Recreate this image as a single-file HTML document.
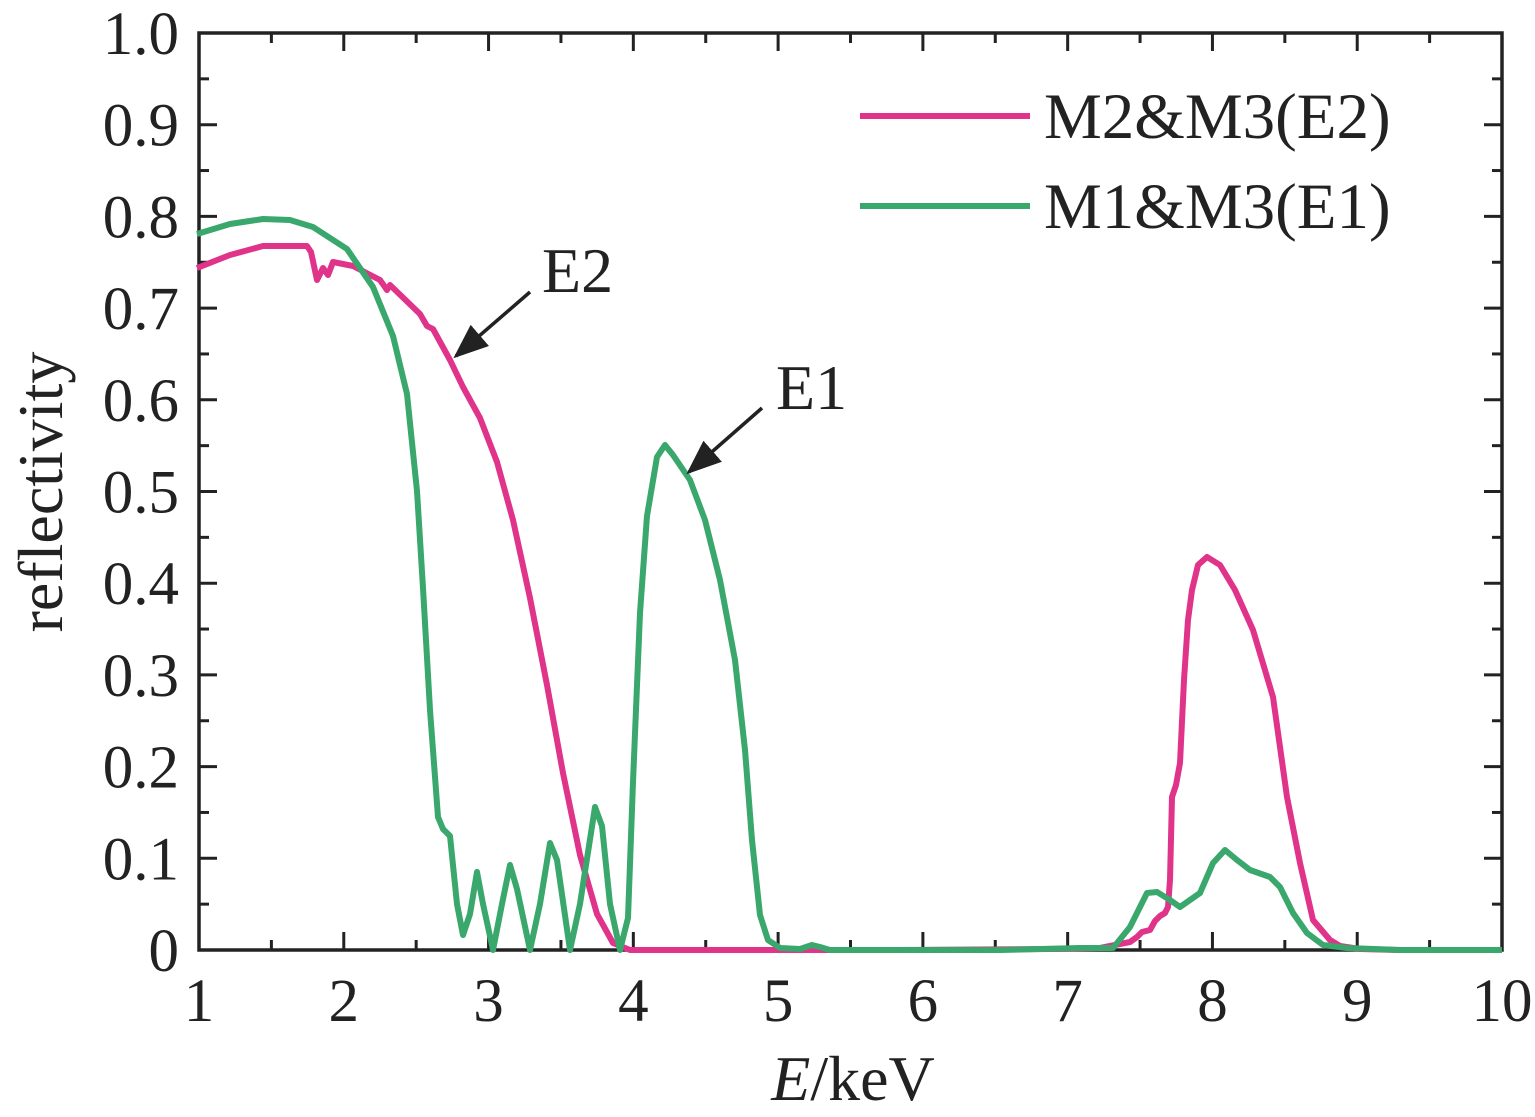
<!DOCTYPE html>
<html><head><meta charset="utf-8"><style>
html,body{margin:0;padding:0;background:#fff;}
svg{display:block;font-family:"Liberation Serif","Times New Roman",serif;}
</style></head><body>
<svg width="1535" height="1117" viewBox="0 0 1535 1117" xmlns="http://www.w3.org/2000/svg">
<defs><marker id="ah" markerWidth="10" markerHeight="8" refX="9" refY="4" orient="auto" markerUnits="strokeWidth"><path d="M0,0 L10,4 L0,8 z" fill="#222"/></marker></defs>
<g id="ticks" stroke="#222" stroke-width="3"></g>
<rect x="199" y="33" width="1303" height="917" fill="none" stroke="#222" stroke-width="3.5"/>
<g font-size="61" fill="#222" text-anchor="end" id="ylab"></g>
<g font-size="61" fill="#222" text-anchor="middle" id="xlab"></g>
<text x="62" y="492" font-size="64" fill="#222" text-anchor="middle" transform="rotate(-90 62 492)">reflectivity</text>
<text x="853" y="1100" font-size="64" fill="#222" text-anchor="middle"><tspan font-style="italic">E</tspan>/keV</text>
<polyline fill="none" stroke="#e0338a" stroke-width="6" stroke-linejoin="round" points="197,268 230,255 263,246 307,246 311,252 317,280 323,268 328,275 333,262 353,266 380,280 387,290 390,285 420,314 427,326 433,329 450,360 463,387 480,418 497,462 513,520 530,598 547,685 563,773 580,855 597,914 613,943 630,950 700,950 900,950 1050,949 1100,948 1115,945 1130,942 1137,937 1142,932 1150,930 1155,921 1160,916 1165,913 1168,907 1170,880 1172,797 1176,785 1180,763 1184,680 1188,620 1192,590 1198,565 1207,557 1220,565 1235,590 1253,630 1273,697 1287,797 1300,863 1313,920 1330,940 1340,946 1360,949 1400,950 1502,950"/>
<polyline fill="none" stroke="#3aa76d" stroke-width="6" stroke-linejoin="round" points="197,234 230,224 263,219 290,220 313,227 347,249 373,287 393,336 407,394 417,491 423,588 430,710 438,817 443,829 450,836 457,904 463,935 470,914 477,872 483,904 493,950 502,904 510,865 517,889 530,950 540,904 550,843 557,860 570,950 580,904 595,807 602,826 610,904 620,950 628,918 633,782 640,613 647,516 657,457 665,445 673,455 690,480 705,520 720,580 735,660 745,750 752,840 760,915 768,940 780,948 800,949 812,945 820,947 830,950 1000,950 1080,948 1113,948 1130,927 1147,893 1157,892 1170,900 1180,907 1190,900 1200,893 1213,863 1225,850 1237,860 1250,870 1270,877 1280,887 1293,913 1307,933 1323,945 1347,948 1400,950 1502,950"/>
<line x1="530" y1="292" x2="456" y2="356" stroke="#222" stroke-width="3.5" marker-end="url(#ah)"/>
<line x1="762" y1="408" x2="689" y2="472" stroke="#222" stroke-width="3.5" marker-end="url(#ah)"/>
<text x="542" y="292" font-size="64" fill="#222">E2</text>
<text x="776" y="409" font-size="64" fill="#222">E1</text>
<line x1="860" y1="116" x2="1030" y2="116" stroke="#e0338a" stroke-width="6"/>
<line x1="860" y1="206" x2="1030" y2="206" stroke="#3aa76d" stroke-width="6"/>
<text x="1044" y="138" font-size="65" fill="#222">M2&amp;M3(E2)</text>
<text x="1044" y="228" font-size="65" fill="#222">M1&amp;M3(E1)</text>
<script>
var ns="http://www.w3.org/2000/svg";
function L(g,x1,y1,x2,y2){var l=document.createElementNS(ns,"line");l.setAttribute("x1",x1);l.setAttribute("y1",y1);l.setAttribute("x2",x2);l.setAttribute("y2",y2);g.appendChild(l);}
function T(g,x,y,s){var t=document.createElementNS(ns,"text");t.setAttribute("x",x);t.setAttribute("y",y);t.textContent=s;g.appendChild(t);}
var tg=document.getElementById("ticks"),yl=document.getElementById("ylab"),xl=document.getElementById("xlab");
for(var i=0;i<=20;i++){var y=950-i*917/20,len=i%2?10:18;L(tg,199,y,199+len,y);L(tg,1502,y,1502-len,y);
 if(i%2==0){var v=i/20;T(yl,179,y+21,v==0?"0":v.toFixed(1));}}
for(var i=0;i<=18;i++){var x=199+i*1303/18,len=i%2?10:18;L(tg,x,950,x,950-len);L(tg,x,33,x,33+len);
 if(i%2==0){T(xl,x,1021,String(1+i/2));}}
</script>
</svg>
</body></html>
